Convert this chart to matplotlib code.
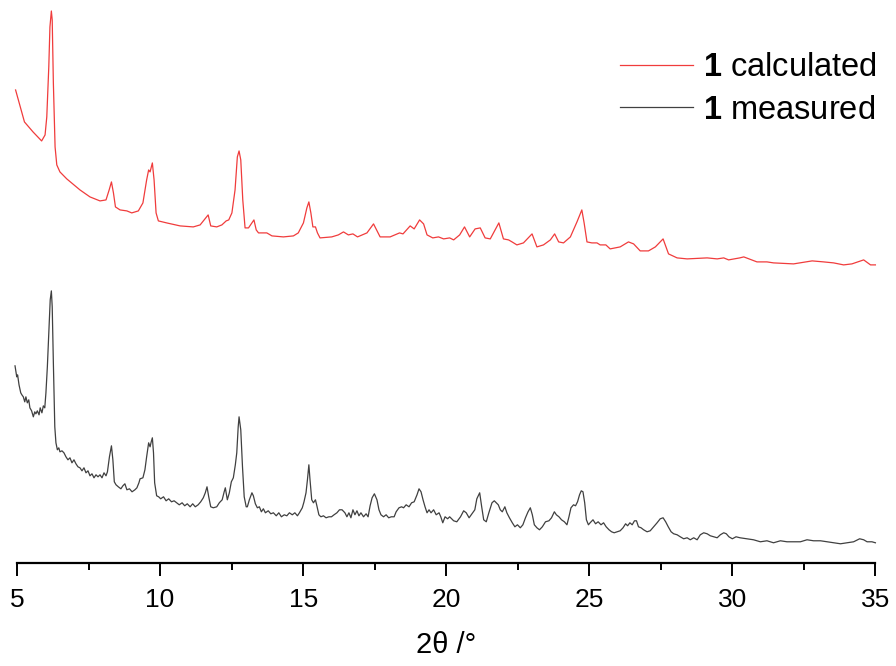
import matplotlib
matplotlib.use('Agg')
import matplotlib.pyplot as plt
from matplotlib.ticker import MultipleLocator

plt.rcParams['font.family'] = ['Liberation Sans', 'DejaVu Sans']
plt.rcParams['mathtext.fontset'] = 'custom'
plt.rcParams['mathtext.bf'] = 'Liberation Sans:bold'

# calculated pattern (2theta in degrees, intensity in arbitrary units, offset)
calc_2theta = [4.95, 5.26, 5.56, 5.86, 5.98, 6.04, 6.11, 6.15, 6.20, 6.23, 6.27, 6.33, 6.39, 6.50,
               6.74, 7.20, 7.55, 7.90, 8.11, 8.22, 8.30, 8.37, 8.44, 8.60, 8.84, 9.01, 9.24, 9.40,
               9.53, 9.60, 9.65, 9.73, 9.79, 9.86, 9.94, 10.23, 10.70, 11.16, 11.40, 11.54, 11.68,
               11.77, 11.98, 12.16, 12.31, 12.40, 12.51, 12.62, 12.70, 12.76, 12.82, 12.89, 12.97,
               13.09, 13.21, 13.28, 13.36, 13.44, 13.73, 13.91, 14.31, 14.66, 14.83, 15.01, 15.13,
               15.20, 15.27, 15.34, 15.43, 15.50, 15.59, 16.00, 16.23, 16.41, 16.58, 16.74, 16.90,
               17.23, 17.46, 17.69, 18.04, 18.37, 18.49, 18.74, 18.88, 19.07, 19.21, 19.33, 19.53,
               19.73, 19.91, 20.12, 20.26, 20.47, 20.64, 20.82, 21.01, 21.19, 21.36, 21.54, 21.71,
               21.84, 22.00, 22.18, 22.30, 22.47, 22.70, 23.00, 23.17, 23.40, 23.64, 23.79, 23.93,
               24.10, 24.34, 24.57, 24.74, 24.82, 24.92, 25.09, 25.27, 25.38, 25.58, 25.73, 26.08,
               26.37, 26.55, 26.78, 27.07, 27.31, 27.58, 27.77, 28.07, 28.42, 29.12, 29.47, 29.70,
               29.87, 30.26, 30.40, 30.86, 31.21, 31.44, 32.14, 32.79, 33.19, 33.54, 33.89, 34.18,
               34.59, 34.83, 35.00]
calc_int = [473, 441, 431, 422, 428, 446, 496, 536, 552, 543, 480, 416, 398, 391,
            384, 373, 366, 362, 363, 373, 381, 370, 356, 353, 352, 350, 352, 360,
            383, 393, 391, 400, 383, 350, 342, 340, 337, 336, 338, 343, 348,
            337, 336, 338, 342, 343, 350, 373, 406, 412, 403, 363, 335,
            335, 340, 343, 333, 330, 330, 327, 326, 327, 330, 340, 355,
            361, 350, 336, 336, 330, 325, 326, 328, 331, 328, 329, 326,
            330, 339, 326, 326, 330, 329, 337, 334, 343, 339, 328, 325,
            326, 324, 325, 323, 328, 336, 326, 334, 335, 325, 324, 333,
            340, 324, 323, 321, 318, 320, 329, 316, 318, 323, 329, 321,
            320, 326, 341, 353, 340, 321, 320, 320, 318, 318, 314, 316,
            321, 319, 312, 312, 316, 324, 309, 305, 304, 305, 304, 305,
            303, 305, 306, 301, 301, 300, 299, 302, 301, 300, 298, 299,
            303, 298, 298]

# measured pattern
meas_2theta = [4.93, 4.99, 5.02, 5.07, 5.13, 5.17, 5.22, 5.27, 5.31, 5.36, 5.41, 5.45, 5.51, 5.57,
               5.62, 5.66, 5.71, 5.77, 5.81, 5.87, 5.92, 5.97, 6.01, 6.06, 6.12, 6.16, 6.20, 6.23,
               6.27, 6.32, 6.36, 6.41, 6.46, 6.50, 6.57, 6.64, 6.71, 6.78, 6.85, 6.92, 6.99, 7.06,
               7.13, 7.20, 7.27, 7.34, 7.41, 7.48, 7.55, 7.62, 7.69, 7.76, 7.83, 7.90, 7.97, 8.04,
               8.11, 8.16, 8.23, 8.30, 8.35, 8.40, 8.46, 8.54, 8.63, 8.70, 8.77, 8.84, 8.93, 9.02,
               9.12, 9.19, 9.26, 9.30, 9.40, 9.47, 9.53, 9.60, 9.65, 9.69, 9.73, 9.77, 9.81, 9.88,
               9.95, 10.02, 10.12, 10.21, 10.30, 10.40, 10.49, 10.58, 10.67, 10.77, 10.86, 10.95,
               11.05, 11.14, 11.23, 11.33, 11.42, 11.51, 11.58, 11.64, 11.70, 11.77, 11.86, 11.98,
               12.07, 12.17, 12.24, 12.28, 12.35, 12.42, 12.49, 12.56, 12.63, 12.68, 12.73, 12.76,
               12.82, 12.88, 12.94, 13.01, 13.05, 13.12, 13.21, 13.26, 13.33, 13.40, 13.47, 13.54,
               13.61, 13.68, 13.78, 13.87, 13.96, 14.06, 14.15, 14.24, 14.34, 14.43, 14.52, 14.62,
               14.71, 14.80, 14.87, 14.97, 15.03, 15.10, 15.15, 15.20, 15.24, 15.30, 15.36, 15.43,
               15.48, 15.55, 15.62, 15.71, 15.80, 15.90, 15.99, 16.08, 16.18, 16.27, 16.36, 16.46,
               16.53, 16.60, 16.67, 16.74, 16.81, 16.88, 16.95, 17.02, 17.11, 17.20, 17.27, 17.34,
               17.41, 17.49, 17.58, 17.65, 17.72, 17.81, 17.90, 17.99, 18.08, 18.18, 18.25, 18.35,
               18.44, 18.51, 18.60, 18.70, 18.79, 18.88, 18.98, 19.05, 19.12, 19.19, 19.26, 19.33,
               19.40, 19.47, 19.56, 19.65, 19.75, 19.81, 19.88, 19.96, 20.05, 20.12, 20.26, 20.37,
               20.50, 20.61, 20.70, 20.80, 20.90, 21.00, 21.07, 21.17, 21.24, 21.31, 21.40, 21.49,
               21.60, 21.68, 21.75, 21.82, 21.89, 21.96, 22.05, 22.12, 22.21, 22.31, 22.40, 22.49,
               22.59, 22.68, 22.77, 22.86, 22.94, 23.01, 23.08, 23.17, 23.26, 23.36, 23.47, 23.59,
               23.68, 23.78, 23.85, 23.94, 24.03, 24.13, 24.22, 24.29, 24.36, 24.45, 24.52, 24.59,
               24.66, 24.72, 24.78, 24.84, 24.90, 24.97, 25.03, 25.13, 25.22, 25.31, 25.41, 25.50,
               25.59, 25.69, 25.78, 25.87, 25.97, 26.08, 26.18, 26.27, 26.34, 26.42, 26.50, 26.58,
               26.65, 26.72, 26.81, 26.90, 27.02, 27.13, 27.25, 27.37, 27.48, 27.58, 27.67, 27.76,
               27.86, 27.95, 28.07, 28.18, 28.30, 28.42, 28.53, 28.65, 28.77, 28.88, 29.00, 29.12,
               29.23, 29.35, 29.47, 29.58, 29.70, 29.79, 29.88, 30.00, 30.13, 30.27, 30.51, 30.74,
               30.98, 31.21, 31.44, 31.68, 31.91, 32.14, 32.38, 32.61, 32.84, 33.08, 33.31, 33.54,
               33.78, 34.01, 34.24, 34.45, 34.59, 34.71, 34.88, 35.00]
meas_int = [197, 186, 188, 178, 170, 168, 166, 161, 166, 160, 163, 155, 152, 146,
            151, 149, 152, 148, 155, 150, 157, 155, 170, 196, 236, 263, 272, 256,
            200, 136, 120, 113, 115, 111, 112, 110, 106, 103, 105, 100, 103, 99,
            96, 95, 92, 95, 90, 92, 87, 89, 85, 88, 86, 88, 85, 90,
            87, 91, 106, 117, 103, 81, 78, 76, 74, 77, 79, 73, 74, 71,
            73, 75, 80, 84, 85, 93, 106, 120, 116, 121, 125, 110, 80, 67,
            66, 64, 66, 62, 64, 61, 62, 60, 58, 60, 57, 59,
            56, 59, 56, 58, 61, 65, 70, 76, 66, 56, 55, 56,
            60, 63, 71, 75, 63, 70, 81, 85, 98, 110, 136, 146,
            133, 96, 66, 56, 56, 63, 70, 67, 59, 55, 56, 51,
            54, 50, 52, 49, 50, 47, 50, 46, 48, 47, 50, 48,
            50, 47, 50, 55, 61, 70, 83, 98, 83, 63, 60, 63,
            57, 48, 46, 47, 45, 46, 46, 48, 50, 53, 53, 50,
            46, 50, 45, 53, 48, 52, 47, 50, 46, 49, 46, 57,
            65, 69, 63, 53, 48, 46, 48, 45, 46, 46, 51, 55,
            56, 55, 58, 56, 60, 61, 68, 74, 71, 63, 56, 50,
            53, 50, 53, 48, 50, 46, 40, 46, 44, 46, 42, 41,
            46, 52, 50, 45, 49, 53, 64, 70, 56, 43, 41, 50,
            60, 62, 60, 58, 53, 51, 56, 50, 45, 40, 36, 38,
            35, 38, 45, 51, 55, 48, 38, 35, 33, 36, 41, 42,
            45, 51, 48, 46, 43, 41, 38, 46, 55, 58, 57, 61,
            68, 72, 71, 60, 43, 38, 40, 43, 39, 41, 38, 40,
            36, 33, 31, 30, 31, 32, 35, 39, 37, 40, 38, 42,
            42, 36, 35, 33, 31, 32, 36, 40, 44, 45, 41, 36,
            31, 29, 28, 26, 24, 25, 23, 25, 23, 28, 30, 29,
            27, 26, 25, 28, 30, 29, 26, 24, 26, 25, 24, 23,
            21, 22, 20, 22, 21, 21, 21, 23, 22, 22, 21, 20,
            19, 20, 21, 24, 23, 21, 21, 20]

labels = [r'$\mathbf{1}$ calculated', r'$\mathbf{1}$ measured']
colors = ['#f03c3c', '#404040']

fig = plt.figure(figsize=(8.96, 6.66), dpi=100)
ax = fig.add_axes([0.019, 0.155, 0.958, 0.845])

ax.plot(calc_2theta, calc_int, color=colors[0], lw=0.9, label=labels[0], clip_on=False)
ax.plot(meas_2theta, meas_int, color=colors[1], lw=0.9, label=labels[1], clip_on=False)

ax.set_xlim(5, 35)
ax.set_ylim(0, 563)
ax.set_yticks([])
for s in ['left', 'right', 'top']:
    ax.spines[s].set_visible(False)
ax.spines['bottom'].set_linewidth(1.6)
ax.xaxis.set_major_locator(MultipleLocator(5))
ax.xaxis.set_minor_locator(MultipleLocator(2.5))
ax.tick_params(axis='x', which='major', length=9, width=1.4, labelsize=19, pad=9)
ax.tick_params(axis='x', which='minor', length=5, width=1.4)
ax.set_xlabel('2θ /°', fontsize=21, labelpad=14)

ax.legend(loc='upper right', bbox_to_anchor=(0.979, 0.922), bbox_transform=fig.transFigure,
          frameon=False, fontsize=23.5, handlelength=2.24, handletextpad=0.3, labelspacing=0.36,
          borderaxespad=0, borderpad=0)

fig.savefig('out.png', dpi=100)
